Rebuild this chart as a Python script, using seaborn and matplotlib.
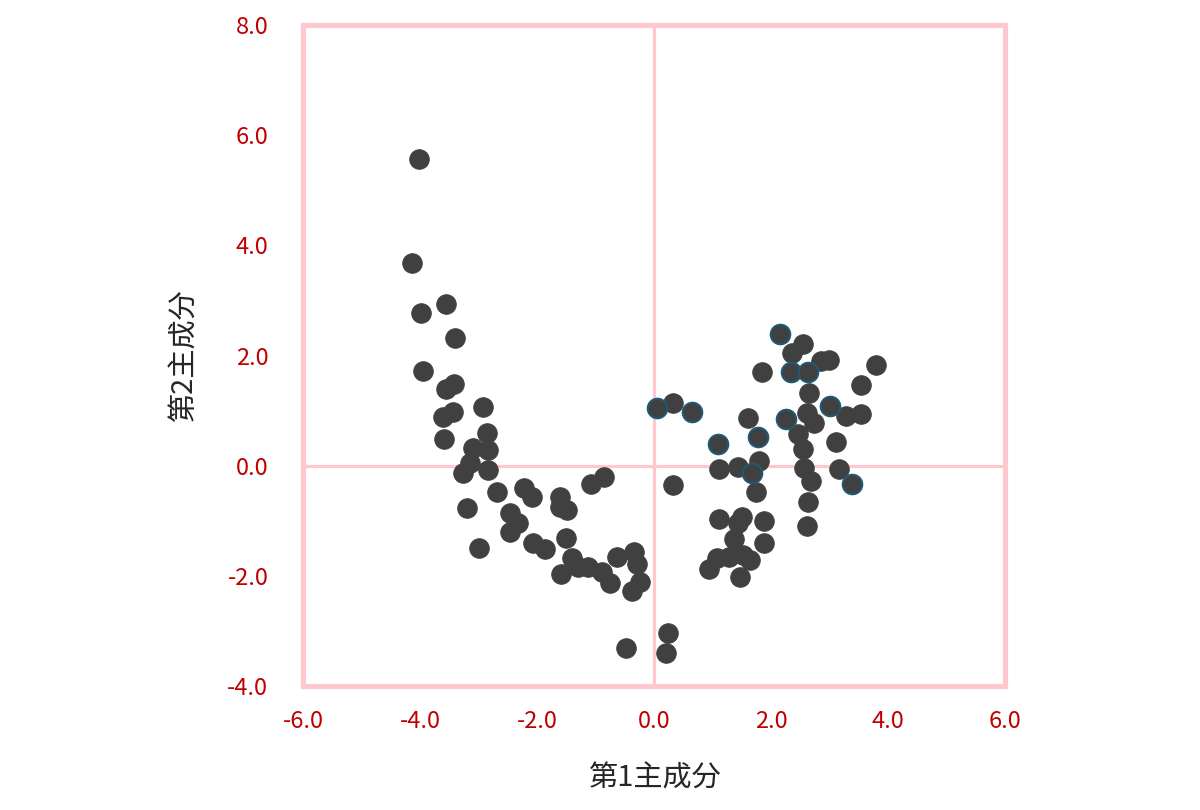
"""Scatter plot of the first two principal component scores."""
import matplotlib.pyplot as plt
import pandas as pd
import seaborn as sns

sns.set_theme(style="white")
plt.rcParams["font.family"] = ["Noto Sans CJK JP", "DejaVu Sans"]

pink = "#ffc7ce"
red = "#c00000"

# principal component scores (plain markers)
pc1 = [
    -4.02, -4.14, -3.56, -3.98, -3.40, -3.95, -3.56, -3.42, -3.61, -3.44,
    -2.92, -3.59, -2.85, -3.09, -2.84, -3.15, -3.26, -2.84, -2.68, -2.22,
    -2.09, -3.20, -2.46, -2.32, -2.46, -2.99, -2.07, -1.86, -1.61, -1.61,
    -1.49, -1.50, -1.40, -1.30, -1.13, -0.89, -0.75, -1.59, -1.08, -0.85,
    -0.63, -0.34, -0.29, -0.24, -0.38, -0.48, 0.24, 0.21, 0.32,
    0.32, 1.11, 1.61, 1.44, 1.79, 1.74, 1.11, 1.50, 1.44, 1.88,
    1.37, 1.88, 1.08, 0.94, 1.28, 1.52, 1.64, 1.47, 2.55, 2.36,
    2.85, 2.99, 3.79, 1.85, 3.54, 2.65, 2.62, 2.74, 3.28, 3.54,
    2.46, 2.55, 3.11, 2.56, 2.68, 3.16, 2.63, 2.62,
]
pc2 = [
    5.57, 3.68, 2.94, 2.77, 2.32, 1.72, 1.39, 1.48, 0.89, 0.98,
    1.07, 0.49, 0.60, 0.32, 0.29, 0.05, -0.13, -0.08, -0.48, -0.40,
    -0.57, -0.77, -0.86, -1.04, -1.20, -1.49, -1.40, -1.51, -0.57, -0.75,
    -0.80, -1.31, -1.67, -1.84, -1.84, -1.93, -2.13, -1.96, -0.33, -0.20,
    -1.66, -1.56, -1.78, -2.11, -2.27, -3.31, -3.03, -3.40, -0.35,
    1.14, -0.06, 0.87, -0.02, 0.09, -0.48, -0.97, -0.93, -1.04, -1.00,
    -1.33, -1.40, -1.67, -1.87, -1.66, -1.62, -1.71, -2.02, 2.21, 2.05,
    1.90, 1.92, 1.83, 1.70, 1.47, 1.32, 0.96, 0.78, 0.90, 0.94,
    0.58, 0.30, 0.43, -0.04, -0.28, -0.06, -0.66, -1.09,
]

# scores drawn with a blue outline
pc1_b = [0.05, 0.65, 1.09, 1.78, 1.68, 2.26, 2.15, 2.34, 2.63, 3.01, 3.38]
pc2_b = [1.05, 0.98, 0.40, 0.52, -0.13, 0.85, 2.39, 1.70, 1.70, 1.09, -0.33]

x_ticks = [-6.0, -4.0, -2.0, 0.0, 2.0, 4.0, 6.0]
y_ticks = [-4.0, -2.0, 0.0, 2.0, 4.0, 6.0, 8.0]

df = pd.DataFrame({"pc1": pc1, "pc2": pc2})
df_b = pd.DataFrame({"pc1": pc1_b, "pc2": pc2_b})

fig = plt.figure(figsize=(12, 8.1), dpi=100)
ax = fig.add_axes([0.2525, 0.1531, 0.585, 0.8159])

ax.axhline(0, color=pink, lw=2.3, zorder=1)
ax.axvline(0, color=pink, lw=2.3, zorder=1)

sns.scatterplot(
    x="pc1", y="pc2", data=df, ax=ax, s=200, color="#404040",
    edgecolor="#404040", linewidth=0.6, zorder=3,
)
sns.scatterplot(
    x="pc1", y="pc2", data=df_b, ax=ax, s=200, color="#404040",
    edgecolor="#1d5b78", linewidth=1.4, zorder=3,
)

ax.set_xlim(-6, 6)
ax.set_ylim(-4, 8)
ax.set_xticks(x_ticks)
ax.set_yticks(y_ticks)
ax.set_xticklabels([f"{v:.1f}" for v in x_ticks])
ax.set_yticklabels([f"{v:.1f}" for v in y_ticks])
ax.tick_params(axis="both", length=0, labelsize=17, labelcolor=red)
ax.tick_params(axis="x", pad=17)
ax.tick_params(axis="y", pad=25)

for sp in ax.spines.values():
    sp.set_color(pink)
    sp.set_linewidth(3.7)

ax.set_xlabel("第1主成分", fontsize=21, color="#262626", labelpad=22)
ax.set_ylabel("第2主成分", fontsize=21, color="#262626", labelpad=20)

fig.savefig("out.png", dpi=100)
